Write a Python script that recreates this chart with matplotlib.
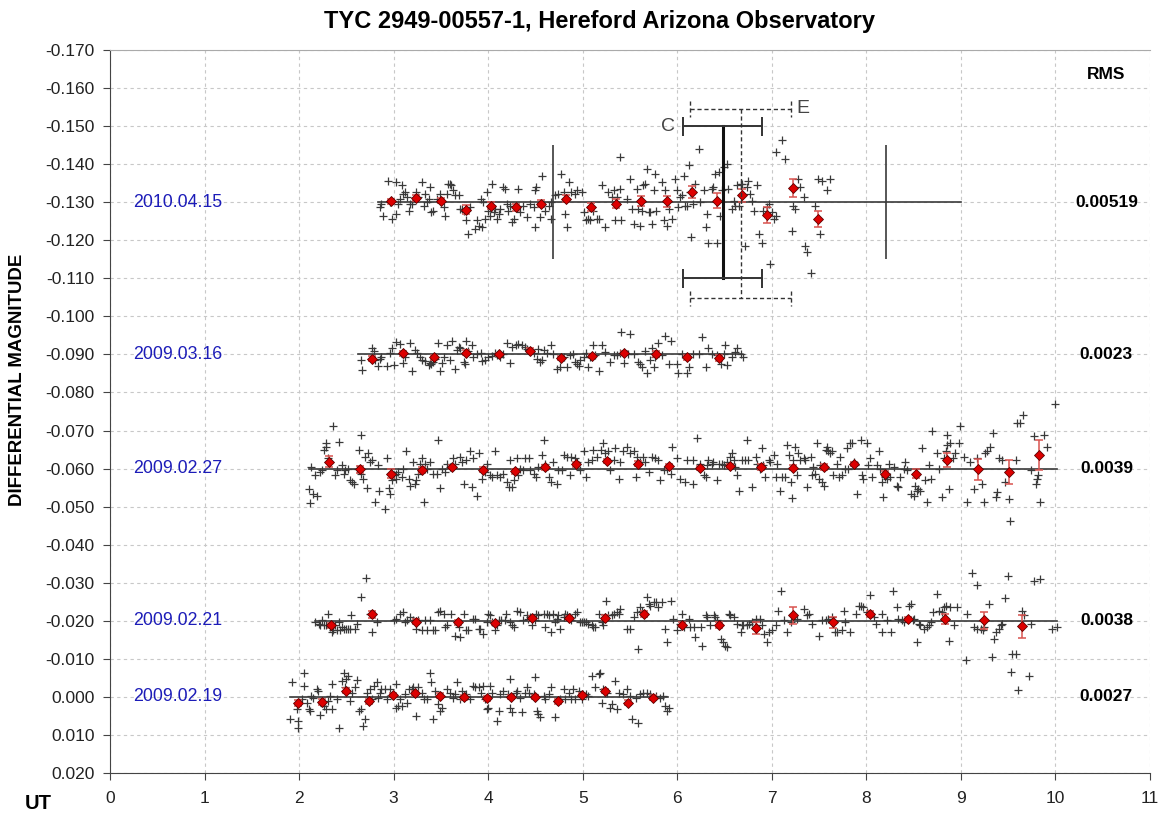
import matplotlib.pyplot as plt
import numpy as np

plt.rcParams['font.family'] = ['Liberation Sans', 'DejaVu Sans']

# nights, baseline magnitude, rms, span of the fitted line (UT hours)
nights = ['2009.02.19', '2009.02.21', '2009.02.27', '2009.03.16', '2010.04.15']
base_mag = [0.000, -0.020, -0.060, -0.090, -0.130]
rms_text = ['0.0027', '0.0038', '0.0039', '0.0023', '0.00519']
line_start = [1.90, 2.17, 2.10, 2.62, 2.84]
line_end = [5.90, 10.02, 10.02, 6.69, 9.00]

# raw measurements: (UT, offset from baseline in mmag)
pts_0219 = [
    (1.90, 5.9), (1.92, -3.9), (1.98, 3.2), (1.99, 6.3), (1.99, 8.1), (2.05, -6.2), (2.05, -2.9), (2.03, 0.6),
    (2.08, 1.5), (2.10, 3.2), (2.12, 3.7), (2.13, -0.3), (2.15, 0.2), (2.19, -2.0), (2.20, -1.6), (2.22, 4.8),
    (2.26, 2.4), (2.28, 3.2), (2.31, 1.1), (2.33, -0.3), (2.35, -3.5), (2.35, 3.2), (2.40, 0.6), (2.42, 8.1),
    (2.45, -4.2), (2.47, -6.4), (2.49, -2.5), (2.50, -4.6), (2.52, -5.5), (2.54, 1.1), (2.56, -1.1), (2.59, -2.5),
    (2.61, -4.5), (2.63, 3.7), (2.66, 3.2), (2.68, 7.6), (2.70, 5.9), (2.72, -1.1), (2.75, -2.0), (2.77, 0.6),
    (2.79, -2.9), (2.82, -3.8), (2.84, 0.2), (2.86, -1.1), (2.87, -2.0), (2.91, -2.0), (2.93, 0.6), (2.96, -2.0),
    (3.02, -3.3), (3.03, 2.8), (3.05, 2.5), (3.07, 0.6), (3.09, 2.4), (3.12, -0.7), (3.14, 1.5), (3.16, -2.0),
    (3.19, -2.0), (3.21, -2.5), (3.24, 5.0), (3.26, -2.5), (3.30, -1.1), (3.32, 0.6), (3.35, 0.6), (3.39, -6.4),
    (3.40, -3.8), (3.42, 5.9), (3.44, -1.6), (3.47, 1.9), (3.49, 3.7), (3.51, 2.8), (3.56, -2.0), (3.60, -1.1),
    (3.63, 0.2), (3.65, -0.7), (3.67, -3.8), (3.70, 0.6), (3.72, -1.6), (3.76, -0.3), (3.77, -0.7), (3.81, 0.6),
    (3.84, -2.9), (3.86, -2.5), (3.90, -2.5), (3.92, -1.1), (3.95, -2.9), (3.97, 0.6), (3.99, 3.2), (4.00, 2.8),
    (4.02, -2.9), (4.04, -1.1), (4.09, 6.3), (4.11, 3.7), (4.13, -0.7), (4.16, -1.6), (4.21, -0.7), (4.23, -4.6),
    (4.23, 2.8), (4.25, 4.1), (4.29, -1.1), (4.30, -1.6), (4.34, 0.2), (4.36, 4.1), (4.39, -1.1), (4.41, -2.5),
    (4.43, -1.1), (4.48, -0.7), (4.50, -5.1), (4.52, 3.7), (4.53, 4.6), (4.55, 5.4), (4.59, -0.3), (4.60, 0.6),
    (4.64, -0.7), (4.67, -2.5), (4.71, 5.4), (4.73, 1.1), (4.76, 0.6), (4.80, -2.0), (4.81, 0.6), (4.85, -1.1),
    (4.88, 0.6), (4.90, -2.0), (4.92, 0.6), (4.96, -1.6), (4.99, 0.6), (5.03, -0.7), (5.06, -0.3), (5.10, -5.5),
    (5.13, -2.5), (5.17, -6.0), (5.18, -6.4), (5.20, 1.5), (5.22, -2.0), (5.26, -1.1), (5.29, 2.8), (5.31, 1.9),
    (5.34, -4.2), (5.36, 3.2), (5.38, -1.1), (5.43, -0.7), (5.47, -2.0), (5.50, -0.3), (5.52, 5.9), (5.56, 0.2),
    (5.59, 6.8), (5.61, -0.7), (5.64, -1.1), (5.68, -1.1), (5.71, -0.7), (5.78, -0.3), (5.82, 0.2), (5.85, -0.3),
    (5.87, 2.4), (5.89, 3.7), (5.91, 2.8),
]

pts_0221 = [
    (2.17, 0.4), (2.21, 0.8), (2.22, 1.2), (2.24, -0.1), (2.26, 1.2), (2.29, 1.2), (2.31, -1.8), (2.33, 1.7),
    (2.35, 3.0), (2.36, 2.5), (2.38, 1.2), (2.40, 2.5), (2.42, 0.4), (2.43, 2.5), (2.45, 1.7), (2.47, 2.1),
    (2.50, 2.1), (2.52, 2.1), (2.54, 2.1), (2.55, -1.4), (2.59, 2.1), (2.61, 0.8), (2.65, -6.2), (2.71, -11.3),
    (2.75, -1.8), (2.77, 3.0), (2.82, 0.4), (3.00, -0.1), (3.03, -0.5), (3.07, -1.8), (3.10, -2.3), (3.12, 0.4),
    (3.14, -0.1), (3.17, -1.0), (3.21, -0.1), (3.24, 2.1), (3.26, -0.1), (3.30, 2.5), (3.33, -0.1), (3.35, 2.5),
    (3.39, -0.1), (3.42, 2.5), (3.44, 2.5), (3.47, -2.3), (3.49, -2.7), (3.53, -1.8), (3.54, 1.7), (3.56, 1.2),
    (3.61, -1.8), (3.65, 3.9), (3.69, 1.7), (3.70, 4.3), (3.74, -1.8), (3.77, 2.5), (3.79, 2.5), (3.84, -0.5),
    (3.86, -0.5), (3.90, 2.1), (3.91, 2.1), (3.95, 3.4), (3.99, 0.4), (4.00, -1.8), (4.02, -1.4), (4.04, 0.4),
    (4.07, 2.5), (4.09, 1.2), (4.11, -0.1), (4.14, -0.1), (4.18, -0.1), (4.19, -1.8), (4.23, 0.4), (4.25, 1.2),
    (4.27, 1.7), (4.30, -2.7), (4.34, -2.3), (4.37, -0.1), (4.41, -1.4), (4.42, -0.5), (4.44, -1.0), (4.46, 1.2),
    (4.50, -0.1), (4.51, -1.8), (4.53, -1.4), (4.59, -1.8), (4.60, 1.7), (4.62, -1.8), (4.64, -1.4), (4.66, 3.0),
    (4.69, -1.8), (4.71, 0.4), (4.73, -0.5), (4.74, -1.4), (4.76, 2.1), (4.80, -1.0), (4.81, -1.8), (4.83, -1.4),
    (4.87, -1.0), (4.88, -0.1), (4.92, -1.8), (4.94, -2.3), (4.97, 0.4), (4.99, 0.4), (5.01, 0.4), (5.04, 0.4),
    (5.06, 0.8), (5.10, 1.2), (5.11, 1.7), (5.13, 1.7), (5.17, -1.8), (5.20, 0.4), (5.22, 1.2), (5.24, -1.0),
    (5.25, -5.3), (5.27, -1.4), (5.31, -1.4), (5.33, -1.8), (5.36, -2.3), (5.38, -1.8), (5.40, -3.2), (5.47, 2.1),
    (5.50, 2.1), (5.54, -1.0), (5.57, -2.3), (5.59, 7.4), (5.61, -3.6), (5.63, -2.7), (5.68, -6.2), (5.70, -4.5),
    (5.71, -4.0), (5.75, -4.9), (5.78, -4.9), (5.80, -3.6), (5.84, -4.9), (5.87, 2.1), (5.89, 5.6), (5.93, -5.3),
    (5.96, -0.5), (6.00, 2.5), (6.03, 0.8), (6.05, -1.8), (6.07, 1.7), (6.12, -0.5),
    (6.14, 1.7), (6.18, 1.7), (6.19, 4.3), (6.25, 1.7), (6.26, 6.5), (6.30, -1.4), (6.32, -1.0), (6.35, 1.2),
    (6.39, -1.4), (6.40, -1.0), (6.42, -0.1), (6.46, 4.7), (6.48, 5.6), (6.51, 6.5), (6.53, 6.9), (6.55, -1.8),
    (6.56, -1.4), (6.60, -1.0), (6.63, 0.8), (6.67, 3.0), (6.69, 1.2), (6.70, 1.2), (6.74, 1.2), (6.76, 0.8),
    (6.79, 0.4), (6.83, -0.5), (6.88, -0.5), (6.90, 1.2), (6.92, 3.4), (6.95, 5.6), (6.97, 3.0), (7.00, 2.5),
    (7.04, 1.2), (7.07, -2.7), (7.10, -7.7), (7.13, -0.1), (7.16, 3.0), (7.20, 0.4), (7.27, -0.5), (7.34, -3.2),
    (7.37, -1.4), (7.39, -1.8), (7.43, 0.8), (7.50, 3.9), (7.53, -0.1), (7.57, -0.1), (7.60, -0.5), (7.64, -1.0),
    (7.67, 3.0), (7.69, 3.0), (7.74, 2.5), (7.76, -2.7), (7.78, 0.4), (7.83, 3.0), (7.89, -1.8), (7.92, -4.0),
    (7.94, -4.0), (7.97, -3.6), (8.01, -2.3), (8.04, -6.7), (8.08, -1.0), (8.10, 0.8), (8.17, 3.0), (8.17, -1.8),
    (8.22, -0.1), (8.26, 3.0), (8.28, -7.7), (8.33, -3.6), (8.34, -0.5), (8.38, -0.1), (8.40, 0.4), (8.45, -4.0),
    (8.47, -4.5), (8.49, -0.1), (8.50, -0.5), (8.54, 5.6), (8.56, 0.8), (8.57, 1.2), (8.61, 2.1), (8.64, 1.7),
    (8.66, 1.2), (8.68, 0.4), (8.71, -2.3), (8.75, -7.1), (8.77, -2.7), (8.80, -2.3), (8.82, -3.6), (8.84, -4.0),
    (8.87, 5.2), (8.89, -3.6), (8.93, 1.2), (8.96, -3.6), (9.05, 10.4), (9.07, -1.8), (9.12, -12.5), (9.14, 1.7),
    (9.17, -9.3), (9.17, 2.1), (9.21, 2.1), (9.23, 2.5), (9.24, 1.7), (9.30, -4.5), (9.33, 9.6), (9.35, 4.7),
    (9.37, 3.0), (9.40, 2.1), (9.42, 1.2), (9.44, 0.8), (9.47, -6.0), (9.50, -11.7), (9.53, 13.5), (9.54, 8.7),
    (9.58, 8.7), (9.61, 18.3), (9.65, -2.7), (9.67, -1.4), (9.72, 14.4), (9.74, 0.8), (9.77, -10.4), (9.84, -11.1),
    (9.96, 2.1), (10.02, 1.7),
]

pts_0227 = [
    (2.10, 5.3), (2.12, 9.1), (2.13, -0.4), (2.15, 6.7), (2.17, 1.8), (2.19, 7.3), (2.22, 0.9), (2.24, 0.4),
    (2.26, -4.9), (2.28, -5.8), (2.29, -6.7), (2.31, -2.7), (2.36, -11.1), (2.38, 1.8), (2.40, 0.4), (2.42, -6.9),
    (2.45, -0.9), (2.47, 1.3), (2.49, 0.4), (2.52, 0.0), (2.54, 3.1), (2.56, 3.6), (2.58, 4.0), (2.61, 0.0),
    (2.63, -4.9), (2.65, -8.7), (2.66, 1.3), (2.68, 2.7), (2.70, -3.1), (2.72, 5.1), (2.73, -4.0), (2.75, -1.8),
    (2.77, -2.2), (2.80, 8.9), (2.84, -0.9), (2.85, 5.8), (2.91, 10.5), (2.93, -2.7), (2.95, 5.1), (2.96, 6.7),
    (2.98, 3.1), (3.00, 1.8), (3.02, 1.3), (3.03, 2.7), (3.05, 0.9), (3.09, 2.2), (3.10, 0.0), (3.13, -4.5),
    (3.16, 2.7), (3.17, 4.6), (3.21, -1.8), (3.23, 4.0), (3.24, 3.1), (3.26, 1.3), (3.28, -1.3), (3.30, -2.7),
    (3.32, 8.9), (3.33, -1.3), (3.35, 0.0), (3.39, -1.8), (3.42, 1.3), (3.46, 1.3), (3.47, -7.4), (3.49, 5.2),
    (3.51, 0.0), (3.54, 0.9), (3.56, -1.3), (3.60, -0.4), (3.63, -2.7), (3.65, -1.3), (3.70, -3.1), (3.72, -1.8),
    (3.74, 4.0), (3.77, -2.2), (3.81, -4.5), (3.83, 4.9), (3.84, -2.7), (3.88, 7.3), (3.90, -4.0), (3.93, 2.7),
    (3.97, 0.9), (3.99, -1.3), (4.02, 1.8), (4.04, 2.2), (4.07, -4.6), (4.09, 1.8), (4.13, 2.2), (4.16, 1.3),
    (4.20, 3.6), (4.22, 4.9), (4.23, -2.2), (4.25, 4.9), (4.27, 3.1), (4.30, -2.8), (4.32, 1.8), (4.34, 0.0),
    (4.37, 0.4), (4.39, -2.8), (4.43, -2.8), (4.44, 0.4), (4.48, 1.3), (4.51, 2.2), (4.53, -0.4), (4.57, -3.6),
    (4.59, -7.6), (4.60, -1.3), (4.64, 2.2), (4.67, 3.6), (4.69, -1.8), (4.73, 4.0), (4.74, 0.4), (4.78, 0.4),
    (4.80, -3.6), (4.83, -3.1), (4.87, 1.8), (4.88, -3.1), (4.92, -2.7), (4.94, -1.8), (4.97, 0.4), (5.01, -4.5),
    (5.03, 2.2), (5.06, -1.8), (5.10, -2.2), (5.11, -4.9), (5.15, -3.1), (5.19, -4.9), (5.22, -6.7), (5.24, -4.0),
    (5.27, -4.5), (5.29, 0.4), (5.33, -2.2), (5.34, -5.3), (5.38, 2.7), (5.40, -1.8), (5.43, -4.5), (5.47, -5.8),
    (5.50, -4.0), (5.54, -4.5), (5.56, 2.2), (5.57, -3.1), (5.61, -1.8), (5.64, -3.1), (5.66, -1.8), (5.70, 0.9),
    (5.73, -3.1), (5.77, -2.7), (5.80, -2.2), (5.82, 3.1), (5.86, 0.4), (5.89, 0.0), (5.93, 1.3), (5.95, -5.8),
    (6.00, -2.7), (6.03, 2.7), (6.08, 3.6), (6.10, -2.2),
    (6.17, -2.2), (6.17, 4.0), (6.21, -8.0), (6.24, -1.3), (6.28, 1.8), (6.30, 2.2), (6.31, -0.9), (6.33, -2.2),
    (6.37, -1.3), (6.38, -1.8), (6.42, 3.1), (6.44, -1.3), (6.47, -1.3), (6.49, -0.9), (6.53, -1.8), (6.56, -3.1),
    (6.58, -4.0), (6.60, -2.2), (6.61, -0.4), (6.63, 1.8), (6.65, 5.8), (6.68, -2.2), (6.72, -2.2), (6.74, -7.6),
    (6.75, -2.2), (6.79, 4.9), (6.83, -3.1), (6.84, -1.3), (6.88, 0.0), (6.90, -5.3), (6.91, -0.9), (6.93, 2.2),
    (6.97, -2.2), (6.98, -1.8), (7.02, -3.6), (7.04, 2.2), (7.06, -1.3), (7.09, 5.8), (7.11, 2.2), (7.14, 2.2),
    (7.16, -6.2), (7.18, -3.6), (7.20, 3.6), (7.21, 7.8), (7.23, -2.2), (7.25, -5.8), (7.27, 1.8), (7.28, -4.0),
    (7.30, -2.2), (7.34, -2.7), (7.35, -2.2), (7.37, 4.9), (7.41, -3.1), (7.43, 1.8), (7.44, -0.4), (7.46, 1.3),
    (7.48, -6.7), (7.50, 2.7), (7.51, -0.9), (7.53, 3.6), (7.55, 4.5), (7.57, -4.9), (7.58, -5.8), (7.60, -4.5),
    (7.62, -4.0), (7.64, -4.5), (7.65, 1.8), (7.69, -1.3), (7.71, 2.2), (7.72, -3.1), (7.74, 1.8), (7.78, 0.0),
    (7.80, -5.3), (7.81, 0.0), (7.83, -6.7), (7.85, -6.7), (7.87, -1.8), (7.88, -0.9), (7.90, 6.7), (7.94, -7.6),
    (7.95, 1.8), (7.97, 2.7), (8.01, -6.7), (8.02, -0.9), (8.04, -2.7), (8.06, 2.2), (8.11, -0.9), (8.13, -4.5),
    (8.15, 0.0), (8.17, 3.6), (8.18, 7.6), (8.20, 2.2), (8.22, 2.7), (8.24, -1.3), (8.25, 2.2), (8.29, -0.4),
    (8.32, 4.5), (8.34, 4.9), (8.36, 2.2), (8.40, 0.0), (8.41, -1.8), (8.43, 0.4), (8.47, 6.7), (8.50, 7.1),
    (8.52, 4.5), (8.54, 5.8), (8.55, 5.3), (8.57, 5.8), (8.59, -5.3), (8.62, 3.1), (8.64, 8.9), (8.66, -0.9),
    (8.68, 2.7), (8.70, -9.8), (8.75, -4.0), (8.77, 0.0), (8.80, 7.6), (8.82, -2.7), (8.84, -4.5), (8.85, -8.9),
    (8.85, -6.2), (8.87, 5.3), (8.89, -6.7), (8.92, -2.7), (8.94, -4.0), (8.98, -6.7), (8.99, -11.1), (9.03, -3.1),
    (9.07, 8.9), (9.10, -1.8), (9.14, 5.3), (9.17, -2.7), (9.22, 4.0), (9.24, 8.9), (9.26, -4.0), (9.28, -4.5),
    (9.31, -5.8), (9.34, -9.3), (9.37, 7.6), (9.38, 6.2), (9.40, -2.7), (9.44, -2.2), (9.47, 3.6), (9.51, 8.0),
    (9.52, 13.8), (9.58, -2.2), (9.59, -12.0), (9.63, -12.0), (9.66, -14.2), (9.74, 0.4), (9.77, -8.5), (9.79, 4.0),
    (9.81, 2.7), (9.82, 1.8), (9.84, 8.9), (9.88, -8.9), (9.91, -5.8), (10.00, -16.9),
]

pts_0316 = [
    (2.65, 1.5), (2.67, 4.1), (2.77, -1.6), (2.79, -1.0), (2.80, 1.5), (2.83, 3.1), (2.86, 1.3), (2.87, 0.6),
    (2.93, 3.1), (2.96, -0.3), (2.98, -1.6), (3.00, 2.8), (3.03, -3.3), (3.07, -2.7), (3.10, 2.2), (3.12, 0.6),
    (3.17, -3.1), (3.19, 4.3), (3.23, -1.1), (3.25, -0.4), (3.28, 0.8), (3.30, 1.5), (3.33, 1.7), (3.37, 2.8),
    (3.39, 2.2), (3.40, 2.6), (3.42, 1.9), (3.44, 1.3), (3.47, -2.9), (3.49, 4.3), (3.51, 2.2), (3.53, 0.6),
    (3.56, -2.6), (3.60, 1.5), (3.62, -3.6), (3.65, 3.7), (3.67, -1.1), (3.69, -2.0), (3.70, -1.8), (3.74, 1.9),
    (3.76, 2.4), (3.77, -3.6), (3.79, -1.0), (3.83, -2.5), (3.84, 0.8), (3.88, -0.1), (3.92, -0.3), (3.93, 1.7),
    (3.97, 1.5), (4.00, 0.8), (4.04, 0.4), (4.07, -0.3), (4.09, 0.2), (4.13, 0.6), (4.16, -0.1), (4.20, -3.1),
    (4.23, 2.2), (4.25, -2.0), (4.29, -2.5), (4.32, -2.7), (4.36, -2.5), (4.39, -2.0), (4.41, -1.3), (4.44, -1.0),
    (4.48, -0.3), (4.52, 1.1), (4.53, -1.3), (4.55, 1.9), (4.57, 1.5), (4.59, -1.1), (4.62, -0.3), (4.66, -2.5),
    (4.69, -0.1), (4.73, 3.7), (4.76, 3.3), (4.80, 0.8), (4.83, 3.4), (4.87, 0.2), (4.90, -0.1), (4.92, 1.9),
    (4.94, 2.4), (4.96, 3.1), (4.97, 1.5), (5.01, 0.6), (5.04, -0.3), (5.06, 3.4), (5.08, 0.6), (5.11, -2.5),
    (5.13, 0.2), (5.17, 4.3), (5.20, -2.5), (5.24, -0.7), (5.29, 1.9), (5.33, 0.2), (5.36, 0.2), (5.40, -0.3),
    (5.41, -6.0), (5.44, 2.2), (5.48, -0.1), (5.50, -5.4), (5.54, -0.1), (5.59, 1.9), (5.61, 2.4), (5.63, 3.4),
    (5.66, -1.0), (5.68, 4.8), (5.71, 1.5), (5.73, -1.6), (5.75, 3.4), (5.77, 0.8), (5.80, -3.1), (5.84, 0.2),
    (5.87, -4.8), (5.91, 2.4), (5.93, -3.6), (6.00, 2.4), (6.01, 4.8), (6.05, -0.1), (6.10, 5.0), (6.12, 3.3),
    (6.17, -0.1), (6.23, -0.1), (6.26, -4.7), (6.30, 3.4), (6.33, -1.6), (6.37, -0.1), (6.42, 0.2), (6.46, 2.4),
    (6.49, -0.1), (6.51, -2.5), (6.53, 2.8), (6.58, 0.6), (6.61, -0.7), (6.63, -1.6), (6.67, -0.1), (6.70, 0.6),
]

pts_1004 = [
    (2.86, 1.3), (2.87, 0.4), (2.89, 3.5), (2.94, -5.7), (2.96, 0.0), (2.98, 4.4), (3.02, 3.1), (3.03, -5.3),
    (3.05, 0.4), (3.07, -0.9), (3.09, -4.4), (3.10, -2.2), (3.12, -2.6), (3.14, -1.3), (3.16, 2.2), (3.17, 0.4),
    (3.19, 0.4), (3.24, -2.6), (3.26, -1.3), (3.30, -5.3), (3.32, 0.9), (3.33, -2.2), (3.35, 0.0), (3.37, -0.9),
    (3.39, -4.0), (3.40, 2.6), (3.42, 2.2), (3.46, -0.9), (3.49, -2.2), (3.53, 1.3), (3.54, 3.7), (3.56, -2.2),
    (3.58, -4.8), (3.60, -4.8), (3.61, -4.4), (3.63, -3.1), (3.65, -1.8), (3.69, -1.8), (3.70, 1.8), (3.72, 1.8),
    (3.74, 2.2), (3.77, 4.8), (3.79, 8.4), (3.81, 1.3), (3.86, 7.0), (3.88, 4.8), (3.90, 6.2), (3.92, -0.9),
    (3.93, 6.6), (3.95, 0.0), (3.97, 4.4), (3.99, -2.6), (4.00, 2.2), (4.02, 3.5), (4.04, -4.8), (4.06, 2.6),
    (4.07, 1.8), (4.09, 4.4), (4.11, 3.1), (4.13, 1.8), (4.16, -4.0), (4.18, -3.5), (4.20, 0.4), (4.21, 2.2),
    (4.23, 0.9), (4.25, 5.3), (4.27, 4.4), (4.32, -3.5), (4.34, 2.6), (4.37, 0.9), (4.41, 4.0), (4.44, 0.4),
    (4.48, 1.3), (4.50, 6.6), (4.50, -3.1), (4.51, -4.0), (4.55, 4.0), (4.57, -7.0), (4.60, 2.2), (4.64, 0.9),
    (4.66, 0.0), (4.67, 4.4), (4.71, -1.8), (4.74, -2.2), (4.77, -7.5), (4.80, -2.6), (4.81, 3.1), (4.83, 6.6),
    (4.85, -5.3), (4.88, -2.6), (4.92, -2.2), (4.94, -3.1), (4.99, -2.6), (5.01, 2.6), (5.03, 4.8), (5.06, 4.4),
    (5.08, 4.8), (5.11, 2.2), (5.15, 4.4), (5.17, 4.4), (5.20, -4.4), (5.24, 6.6), (5.27, -2.6), (5.31, -1.3),
    (5.33, -3.1), (5.34, 4.8), (5.36, -1.3), (5.39, -11.9), (5.40, -3.5), (5.41, 4.8), (5.47, -0.9), (5.50, -6.2),
    (5.52, 1.8), (5.54, 5.7), (5.57, -3.5), (5.59, 1.8), (5.61, 6.2), (5.63, 2.2), (5.64, -4.4), (5.66, -4.8),
    (5.68, -8.8), (5.70, 2.6),
    (5.71, 2.6), (5.73, 5.7), (5.75, -3.1), (5.77, -7.5), (5.78, 2.2), (5.84, -5.3), (5.86, 4.8), (5.87, -3.1),
    (5.89, 6.2), (5.91, 1.8), (5.94, 4.4), (5.98, -6.2), (6.00, -3.1), (6.01, 1.3), (6.03, -1.3), (6.05, -1.8),
    (6.07, -7.0), (6.08, 0.9), (6.10, 0.9), (6.12, -9.7), (6.14, -2.6), (6.15, 9.2), (6.17, 0.4), (6.19, -4.8),
    (6.23, -14.1), (6.24, 0.0), (6.28, -3.1), (6.30, 6.6), (6.31, 3.1), (6.33, 10.6), (6.37, -3.5), (6.38, -4.0),
    (6.40, -7.5), (6.42, 10.6), (6.44, -7.9), (6.45, 3.5), (6.47, -3.1), (6.49, -9.2), (6.53, -10.1), (6.54, -3.5),
    (6.58, 1.8), (6.60, -0.4), (6.61, 0.9), (6.63, -4.4), (6.65, 0.9), (6.67, -4.8), (6.68, -4.8), (6.72, 11.4),
    (6.74, -4.0), (6.75, -5.7), (6.77, -2.2), (6.79, -0.4), (6.81, 2.2), (6.84, -4.4), (6.86, 8.4), (6.90, 10.6),
    (6.91, 2.2), (6.95, 1.3), (6.97, 0.4), (6.98, 16.3), (7.00, 2.6), (7.02, 4.4), (7.04, 3.5), (7.05, -13.2),
    (7.11, -16.3), (7.14, -11.4), (7.21, 7.5), (7.23, 0.9), (7.25, 1.8), (7.28, -6.2), (7.30, -4.0), (7.34, -1.3),
    (7.35, 11.4), (7.37, 13.2), (7.42, 18.5), (7.46, 0.9), (7.49, -6.2), (7.51, 8.4), (7.53, -5.7), (7.58, -3.1),
    (7.62, -6.2),
]

# binned means: UT, offset (mmag), error (mmag)
bin_0219_t = [1.99, 2.24, 2.50, 2.74, 2.99, 3.23, 3.49, 3.74, 3.99, 4.24, 4.50, 4.74, 4.99, 5.24, 5.48, 5.74]
bin_0219_d = [1.5, 1.3, -1.6, 1.2, -0.5, -0.9, -0.3, 0.1, 0.4, 0.0, 0.0, 1.2, -0.5, -1.6, 1.5, 0.2]
bin_0219_e = [0.8, 0.7, 0.7, 0.7, 0.6, 0.6, 0.6, 0.6, 0.6, 0.6, 0.6, 0.6, 0.6, 0.6, 0.6, 0.6]

bin_0221_t = [2.34, 2.77, 3.24, 3.68, 4.07, 4.46, 4.86, 5.24, 5.65, 6.05, 6.44, 6.83, 7.22, 7.65, 8.04, 8.44, 8.83, 9.25, 9.65]
bin_0221_d = [1.2, -1.7, 0.2, 0.4, 0.6, -0.7, -0.7, -0.8, -1.8, 1.0, 1.1, 1.9, -1.4, 0.4, -1.8, -0.5, -0.5, -0.1, 1.5]
bin_0221_e = [0.6, 0.9, 0.6, 0.6, 0.6, 0.6, 0.6, 0.6, 0.9, 0.7, 0.7, 1.5, 2.2, 1.4, 0.8, 0.6, 1.4, 2.3, 3.0]

bin_0227_t = [2.32, 2.64, 2.97, 3.30, 3.62, 3.95, 4.28, 4.60, 4.93, 5.26, 5.58, 5.91,
              6.24, 6.56, 6.89, 7.22, 7.55, 7.87, 8.20, 8.53, 8.85, 9.18, 9.51, 9.83]
bin_0227_d = [-1.8, 0.2, 1.3, 0.4, -0.4, 0.3, 0.7, -0.3, -1.1, -2.0, -1.3, -0.6,
              -0.2, -0.7, -0.4, -0.2, -0.4, -1.2, 1.3, 1.3, -2.2, 0.2, 0.9, -3.6]
bin_0227_e = [1.4, 1.0, 1.2, 0.8, 0.6, 0.6, 0.6, 0.6, 0.6, 0.6, 0.6, 0.6,
              0.6, 0.6, 0.8, 0.7, 0.9, 0.6, 0.7, 1.2, 1.9, 2.7, 3.1, 3.9]

bin_0316_t = [2.77, 3.10, 3.43, 3.77, 4.11, 4.44, 4.77, 5.10, 5.44, 5.78, 6.10, 6.44]
bin_0316_d = [1.1, -0.3, 0.8, -0.5, 0.0, -1.0, 0.9, 0.4, -0.4, -0.1, 0.8, 0.9]
bin_0316_e = [0.6, 0.7, 0.6, 0.6, 0.5, 0.6, 0.5, 0.6, 0.6, 0.7, 0.7, 0.7]

bin_1004_t = [2.97, 3.24, 3.50, 3.77, 4.03, 4.29, 4.56, 4.82, 5.09, 5.35, 5.62, 5.89, 6.16, 6.42, 6.68, 6.95, 7.22, 7.49]
bin_1004_d = [-0.2, -1.1, -0.4, 2.0, 0.9, 1.3, 0.4, -0.9, 1.3, 0.4, -0.4, -0.2, -2.6, -0.4, -1.8, 3.3, -3.7, 4.4]
bin_1004_e = [0.7, 0.7, 0.7, 1.2, 0.9, 0.9, 0.9, 0.9, 1.0, 1.2, 1.3, 1.4, 1.6, 2.0, 1.8, 2.1, 2.3, 2.2]

# transit markers on the 2010 night
window_t = [4.69, 8.21]
window_half = 0.015
c_mid, c_half, c_top, c_bot = 6.48, 0.42, -0.150, -0.110
e_mid, e_half, e_top, e_bot = 6.67, 0.53, -0.1545, -0.1047

all_pts = [pts_0219, pts_0221, pts_0227, pts_0316, pts_1004]
all_bins = [(bin_0219_t, bin_0219_d, bin_0219_e), (bin_0221_t, bin_0221_d, bin_0221_e),
            (bin_0227_t, bin_0227_d, bin_0227_e), (bin_0316_t, bin_0316_d, bin_0316_e),
            (bin_1004_t, bin_1004_d, bin_1004_e)]

fig = plt.figure(figsize=(11.58, 8.13), dpi=100)
ax = fig.add_axes([0.095, 0.0492, 0.898, 0.8893])

for i in range(len(nights)):
    b = base_mag[i]
    ax.plot([line_start[i], line_end[i]], [b, b], color='#3a3a3a', lw=1.2, zorder=2)
    p = np.array(all_pts[i])
    ax.plot(p[:, 0], b + p[:, 1] / 1000, '+', color='#3a3a3a', ms=6, mew=0.9, zorder=3)
    bt, bd, be = all_bins[i]
    y = b + np.array(bd) / 1000
    ax.errorbar(bt, y, yerr=np.array(be) / 1000, fmt='none', ecolor='#d9534f',
                elinewidth=1.1, capsize=3, capthick=1.1, zorder=4)
    ax.plot(bt, y, 'D', ms=5.5, mfc='#dd0000', mec='#5a0000', mew=0.6, zorder=5)
    ax.text(0.72, b, nights[i], color='#1c1cb8', ha='center', va='center', fontsize=12.8)
    ax.text(10.54, b, rms_text[i], color='black', ha='center', va='center', fontsize=12.5,
            fontweight='bold')

ax.text(10.54, -0.1635, 'RMS', ha='center', va='center', fontsize=12.5, fontweight='bold')

# 2010 night markers
b = base_mag[4]
ax.vlines(window_t, b - window_half, b + window_half, color='#3a3a3a', lw=1.2, zorder=2)

ax.plot([c_mid, c_mid], [c_top, c_bot], color='#111111', lw=2.2, zorder=6)
for yy in (c_top, c_bot):
    ax.plot([c_mid - c_half, c_mid + c_half], [yy, yy], color='#333333', lw=1.4, zorder=6)
    ax.vlines([c_mid - c_half, c_mid + c_half], yy - 0.0025, yy + 0.0025, color='#333333', lw=1.4, zorder=6)
ax.text(c_mid - c_half - 0.08, c_top, 'C', ha='right', va='center', fontsize=14, color='#444444')

ax.plot([e_mid, e_mid], [e_top, e_bot], color='#333333', lw=1.0, ls=(0, (3, 2)), zorder=6)
for yy in (e_top, e_bot):
    ax.plot([e_mid - e_half, e_mid + e_half], [yy, yy], color='#333333', lw=1.0, ls=(0, (3, 2)), zorder=6)
    ax.vlines([e_mid - e_half, e_mid + e_half], yy - 0.002, yy + 0.002, color='#333333', lw=1.0,
              linestyles=(0, (3, 2)), zorder=6)
ax.text(e_mid + e_half + 0.06, e_top, 'E', ha='left', va='center', fontsize=14, color='#444444')

# axes
ax.set_xlim(0, 11)
ax.set_ylim(0.020, -0.170)
ax.set_xticks(range(0, 12))
yt = np.arange(-170, 21, 10) / 1000
ax.set_yticks(yt)
ax.set_yticklabels([f'{v:.3f}' for v in yt])
ax.grid(True, color='#c8c8c8', ls=(0, (3, 3)), lw=0.8)
ax.set_axisbelow(True)
ax.spines['right'].set_visible(False)
ax.spines['top'].set_color('#aaaaaa')
ax.spines['left'].set_color('#444444')
ax.spines['bottom'].set_color('#444444')
ax.tick_params(axis='y', length=5, pad=6, labelsize=12.5, color='#444444', labelcolor='#222222')
ax.tick_params(axis='x', length=5, pad=8, labelsize=12.5, color='#444444', labelcolor='#222222')

fig.text(0.518, 0.973, 'TYC 2949-00557-1, Hereford Arizona Observatory',
         ha='center', va='center', fontsize=17, fontweight='bold')
fig.text(0.0155, 0.533, 'DIFFERENTIAL MAGNITUDE', rotation=90, ha='center', va='center',
         fontsize=13.4, fontweight='bold')
fig.text(0.033, 0.012, 'UT', ha='center', va='center', fontsize=14.5, fontweight='bold')

fig.savefig('out.png', dpi=100)
